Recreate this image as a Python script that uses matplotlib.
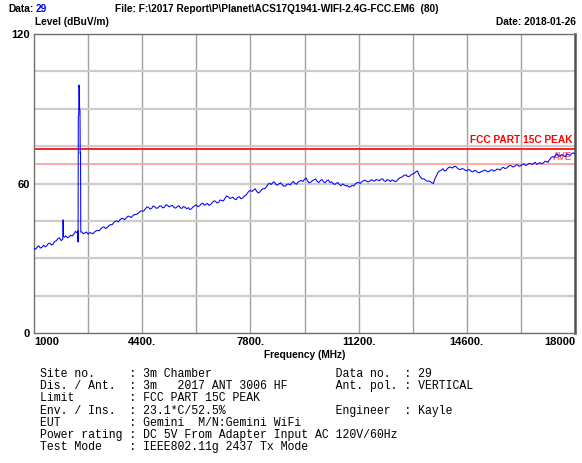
import numpy as np
import matplotlib
matplotlib.use("Agg")
import matplotlib.pyplot as plt
from matplotlib import font_manager

# ---------------- data ----------------
sweep_start_mhz = 1000
sweep_step_mhz = 100
# readings at 1000, 1100, ... 18000 MHz
sweep_levels = [
    34.0, 34.5, 34.1, 35.2, 35.0, 36.1, 35.6, 37.0, 38.2, 37.6,   # 1000-1900
    39.0, 38.6, 38.9, 40.8, 40.5, 40.6, 40.2, 39.7, 40.1, 40.5,   # 2000-2900
    41.2, 41.8, 42.6, 42.3, 43.5, 44.2, 45.0, 45.4, 45.9, 46.2,   # 3000-3900
    46.8, 47.0, 47.6, 48.3, 48.9, 49.8, 50.4, 50.1, 50.6, 50.3,   # 4000-4900
    50.9, 50.5, 51.2, 51.0, 50.4, 50.7, 50.2, 50.8, 49.9, 49.5,   # 5000-5900
    50.6, 51.4, 51.0, 52.1, 51.6, 51.2, 52.3, 52.9, 52.5, 53.2,   # 6000-6900
    54.0, 54.7, 54.2, 53.8, 54.4, 53.9, 54.8, 56.0, 57.2, 57.4,   # 7000-7900
    56.8, 56.6, 57.9, 58.6, 60.1, 60.3, 59.6, 59.9, 59.5, 59.0,   # 8000-8900
    59.8, 60.3, 60.0, 60.6, 61.2, 61.7, 61.0, 60.6, 61.5, 60.8,   # 9000-9900
    61.2, 60.7, 61.1, 60.4, 60.0, 60.1, 59.5, 59.8, 59.0, 58.5,   # 10000-10900
    59.3, 59.9, 60.4, 60.7, 61.3, 60.6, 61.5, 60.9, 61.4, 61.7,   # 11000-11900
    61.1, 61.6, 60.8, 61.2, 61.1, 62.3, 63.0, 63.4, 62.9, 63.8,   # 12000-12900
    64.7, 63.5, 61.8, 61.4, 61.0, 60.3, 62.0, 64.6, 65.4, 65.0,   # 13000-13900
    66.1, 66.5, 66.8, 66.2, 65.6, 65.8, 65.1, 65.4, 64.7, 65.0,   # 14000-14900
    64.3, 64.9, 65.2, 64.8, 65.5, 65.3, 65.7, 66.2, 66.0, 66.8,   # 15000-15900
    67.1, 66.9, 67.4, 67.2, 67.8, 67.5, 68.0, 68.1, 67.7, 68.4,   # 16000-16900
    68.2, 68.8, 69.6, 70.8, 71.4, 70.9, 71.6, 70.8, 71.5, 72.0,   # 17000-17900
    71.8,                                                         # 18000
]
# readings at 1050, 1150, ... 17950 MHz
half_start_mhz = 1050
half_levels = [
    33.6, 35.0, 34.4, 34.6, 35.9, 35.3, 36.8, 37.9, 37.1, 38.4,   # 1050-1950
    38.2, 39.3, 39.6, 40.2, 40.0, 39.8, 40.5, 40.3, 39.8, 41.0,   # 2050-2950
    41.0, 42.4, 41.9, 43.1, 43.4, 44.8, 44.6, 46.0, 45.5, 46.9,   # 3050-3950
    46.3, 47.5, 47.8, 49.0, 49.0, 50.6, 49.7, 51.0, 50.0, 51.0,   # 4050-4950
    50.2, 51.5, 50.6, 51.2, 50.1, 51.1, 50.0, 50.4, 50.3, 49.9,   # 5050-5950
    51.1, 50.7, 51.8, 51.3, 52.0, 51.6, 53.0, 52.2, 53.4, 53.0,   # 6050-6950
    55.0, 54.0, 54.5, 53.5, 54.7, 54.1, 55.2, 56.9, 56.8, 57.9,   # 7050-7950
    56.2, 57.5, 58.0, 59.6, 59.6, 60.7, 59.3, 60.3, 58.9, 59.7,   # 8050-8950
    59.4, 60.8, 59.7, 61.0, 60.8, 62.2, 60.3, 61.1, 61.8, 60.4,   # 9050-9950
    61.6, 60.3, 61.4, 60.7, 59.6, 60.4, 59.1, 59.4, 59.2, 58.8,   # 10050-10950
    59.0, 60.3, 60.0, 61.1, 60.9, 61.0, 61.2, 61.6, 61.1, 61.9,   # 11050-11950
    60.8, 61.3, 61.4, 60.7, 61.8, 62.5, 63.4, 62.7, 63.5, 64.1,   # 12050-12950
    65.0, 62.4, 61.9, 60.9, 60.8, 60.0, 63.2, 65.0, 65.9, 65.3,   # 13050-13950
    66.6, 66.2, 66.9, 65.7, 66.0, 65.3, 65.6, 64.8, 65.3, 64.4,   # 14050-14950
    64.8, 65.4, 64.7, 65.4, 65.0, 65.8, 65.4, 66.5, 66.2, 67.2,   # 15050-15950
    66.6, 67.5, 66.9, 67.7, 67.2, 68.1, 67.6, 68.5, 68.0, 67.9,   # 16050-16950
    68.9, 68.5, 70.4, 70.5, 71.8, 71.2, 71.0, 71.9, 71.3, 72.3,   # 17050-17950
]
# narrow-band emissions (frequency MHz, level dBuV/m)
emission_freqs = [1905, 1915, 1925,
                  2375, 2385, 2392, 2405, 2412, 2425, 2432, 2445, 2452, 2462, 2470]
emission_levels = [38.0, 45.4, 38.8,
                   41.0, 36.5, 87.0, 87.5, 99.5, 98.0, 90.0, 89.5, 72.0, 72.5, 40.5]

limit_peak = 74.0
limit_margin = 68.0
limit_name = "FCC PART 15C PEAK"
margin_name = "AVE"

x_min, x_max = 1000, 18000
y_min, y_max = 0, 120
x_label_values = [1000, 4400, 7800, 11200, 14600, 18000]
x_label_texts = ["1000", "4400.", "7800.", "11200.", "14600.", "18000"]
y_label_values = [0, 60, 120]
y_label_texts = ["0", "60", "120"]

info_left = [("Site no.", "3m Chamber"),
             ("Dis. / Ant.", "3m   2017 ANT 3006 HF"),
             ("Limit", "FCC PART 15C PEAK"),
             ("Env. / Ins.", "23.1*C/52.5%"),
             ("EUT", "Gemini  M/N:Gemini WiFi"),
             ("Power rating", "DC 5V From Adapter Input AC 120V/60Hz"),
             ("Test Mode", "IEEE802.11g 2437 Tx Mode")]
info_right = [("Data no.", "29"), ("Ant. pol.", "VERTICAL"), None,
              ("Engineer", "Kayle"), None, None, None]

# ---------------- assemble trace ----------------
sweep_freqs = np.concatenate([
    sweep_start_mhz + sweep_step_mhz * np.arange(len(sweep_levels)),
    half_start_mhz + sweep_step_mhz * np.arange(len(half_levels))])
sweep_vals = np.concatenate([sweep_levels, half_levels])
keep = ~(((sweep_freqs > 1900) & (sweep_freqs < 1930)) |
         ((sweep_freqs > 2370) & (sweep_freqs < 2475)))
freqs = np.concatenate([sweep_freqs[keep], emission_freqs])
levels = np.concatenate([sweep_vals[keep], emission_levels])
order = np.argsort(freqs)
freqs, levels = freqs[order], levels[order]

# condensed header font if available
names = {f.name for f in font_manager.fontManager.ttflist}
if "Liberation Sans Narrow" in names:
    HDR_FAMILY, HDR_SIZE = "Liberation Sans Narrow", 8.8
else:
    HDR_FAMILY, HDR_SIZE = "Liberation Sans", 7.3

# ---------------- figure ----------------
W, H = 582, 463
fig = plt.figure(figsize=(W / 100, H / 100), dpi=100)
fig.patch.set_facecolor("white")

def fx(px):
    return px / W

def fy(py):
    return 1 - py / H

L, R, T, B = 34, 575, 34, 333
ax = fig.add_axes([fx(L), fy(B), fx(R) - fx(L), fy(T) - fy(B)])
ax.set_xlim(x_min, x_max)
ax.set_ylim(y_min, y_max)

# grid
for xv in np.arange(x_min, x_max + 1, 1700)[1:-1]:
    ax.axvline(xv, color="#a0a0a0", lw=1.0, zorder=1)
for yv in np.arange(y_min, y_max + 1, 15)[1:-1]:
    ax.axhline(yv, color="#cccccc", lw=1.6, zorder=1)

# limit lines
ax.axhline(limit_peak, color="#ff2020", lw=1.4, zorder=2)
ax.axhline(limit_margin, color="#ff9a9a", lw=1.2, zorder=2)

# trace
ax.plot(freqs, levels, color="#0000ff", lw=0.75, zorder=3)

ax.text(17920, limit_peak + 1.3, limit_name, color="#ff0000", fontsize=HDR_SIZE,
        fontweight="bold", ha="right", va="bottom", family=HDR_FAMILY, zorder=4)
ax.text(17920, limit_margin + 0.5, margin_name, color="#ff6a6a", fontsize=7,
        fontweight="bold", ha="right", va="bottom", family="Liberation Sans", zorder=2)

# ticks
ax.set_xticks(x_label_values)
ax.set_xticklabels(x_label_texts)
ax.set_yticks(y_label_values)
ax.set_yticklabels(y_label_texts)
ax.tick_params(length=0, pad=3)
for lab in ax.get_xticklabels() + ax.get_yticklabels():
    lab.set_fontweight("bold")
    lab.set_fontsize(8)
    lab.set_family("Liberation Sans")
xl = ax.get_xticklabels()
xl[0].set_horizontalalignment("left")
xl[-1].set_horizontalalignment("right")

for s in ["left", "bottom", "top"]:
    ax.spines[s].set_color("#707070")
    ax.spines[s].set_linewidth(1.0)
ax.spines["right"].set_color("#505050")
ax.spines["right"].set_linewidth(1.8)

ax.set_xlabel("Frequency (MHz)", fontsize=HDR_SIZE, fontweight="bold",
              family=HDR_FAMILY, labelpad=2)

# header texts
hdr = dict(fontsize=HDR_SIZE, fontweight="bold", family=HDR_FAMILY, va="center")
fig.text(fx(8), fy(9), "Data:", color="black", ha="left", **hdr)
fig.text(fx(36), fy(9), "29", color="#0000ff", ha="left", **hdr)
fig.text(fx(115), fy(9),
         "File: F:\\2017 Report\\P\\Planet\\ACS17Q1941-WIFI-2.4G-FCC.EM6  (80)",
         color="black", ha="left", **hdr)
fig.text(fx(35), fy(22), "Level (dBuV/m)", color="black", ha="left", **hdr)
fig.text(fx(576), fy(22), "Date: 2018-01-26", color="black", ha="right", **hdr)

# info block
y0, dy = 374, 12.2
for i, (a, b) in enumerate(zip(info_left, info_right)):
    line = f"{a[0]:<13}: {a[1]}"
    line = f"{line:<43}"
    if b is not None:
        line += f"{b[0]:<10}: {b[1]}"
    fig.text(fx(40), fy(y0 + i * dy), line.rstrip(), fontsize=8.3,
             family="Liberation Mono", ha="left", va="center", color="black")

fig.savefig("out.png", dpi=100)
